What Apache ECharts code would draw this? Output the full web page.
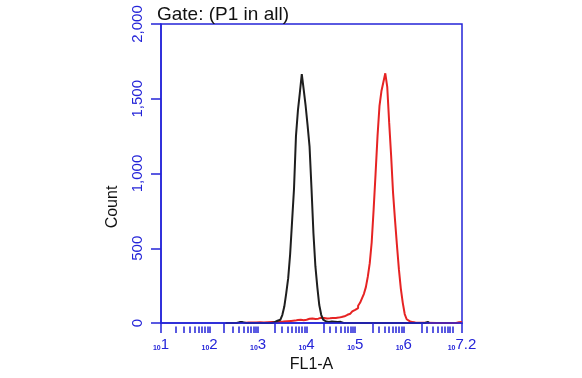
<!DOCTYPE html>
<html>
<head>
<meta charset="utf-8">
<script src="https://cdn.jsdelivr.net/npm/echarts@6/dist/echarts.min.js"></script>
<style>
  html, body { margin: 0; padding: 0; background: #fff; }
  #chart { width: 582px; height: 378px; }
</style>
</head>
<body>
<div id="chart"></div>
<script>
// FL1-A channel positions (log10) and counts
var blackExp = [2.33, 2.35, 2.37, 2.56, 2.60, 2.64, 2.68, 2.72, 2.80, 2.84, 2.88,
  3.28, 3.32, 3.36, 3.40, 3.44, 3.48, 3.52, 3.56, 3.60, 3.64, 3.68, 3.72, 3.76, 3.80,
  3.84, 3.88, 3.92, 3.96, 4.00, 4.04, 4.08, 4.12, 4.16, 4.20, 4.24, 4.28, 4.32, 4.36,
  4.40, 4.44, 4.48, 4.52, 4.56, 4.60, 4.64, 4.68, 4.72, 4.76, 6.44, 6.48, 6.52];
var blackCount = [0, 8, 0, 0, 6, 8, 6, 0, 0, 6, 0,
  0, 6, 8, 15, 22, 35, 55, 110, 200, 300, 460, 680, 900, 1250,
  1420, 1540, 1665, 1560, 1450, 1320, 1180, 900, 600, 380, 240, 120, 55, 22,
  10, 6, 8, 10, 8, 10, 6, 8, 5, 0, 0, 8, 0];

var redExp = [2.72, 2.76, 2.84, 2.92, 3.00, 3.08, 3.16, 3.24, 3.32, 3.40, 3.48, 3.56,
  3.64, 3.72, 3.80, 3.84, 3.88, 3.92, 3.96, 4.00, 4.04, 4.08, 4.12, 4.16, 4.20, 4.24,
  4.28, 4.32, 4.36, 4.40, 4.44, 4.48, 4.52, 4.56, 4.60, 4.64, 4.68, 4.72, 4.76, 4.80,
  4.84, 4.88, 4.92, 4.96, 5.00, 5.04, 5.08, 5.12, 5.16, 5.20, 5.24, 5.28, 5.32, 5.36,
  5.40, 5.44, 5.48, 5.52, 5.56, 5.60, 5.64, 5.68, 5.72, 5.76, 5.80, 5.84, 5.88, 5.92,
  5.96, 6.00, 6.04, 6.08, 6.12, 6.16, 6.20, 6.24, 6.28, 7.08, 7.12, 7.16, 7.20];
var redCount = [0, 4, 4, 3, 5, 4, 5, 6, 7, 9, 10, 12,
  14, 16, 20, 17, 22, 19, 25, 22, 28, 24, 30, 27, 33, 29,
  35, 31, 34, 30, 33, 31, 33, 35, 34, 36, 38, 40, 45, 50,
  55, 62, 70, 78, 88, 100, 115, 135, 165, 195, 240, 310, 400, 540,
  760, 1000, 1250, 1450, 1550, 1610, 1670, 1580, 1340, 1120, 870, 690, 520, 360,
  230, 135, 60, 25, 12, 6, 5, 4, 0, 0, 5, 5, 6];

var xMin = 10, xMax = Math.pow(10, 7.2);
var xLast = Math.pow(10, 7.1999);
var labelValues = [1e1, 1e2, 1e3, 1e4, 1e5, 1e6, xLast];
var majorTicks = [1e1, 2e2, 2.2e3, 2.2e4, 2.3e5, 2.3e6, xLast];
var minorTicks = [];
for (var n = 1; n <= 6; n++) {
  for (var k = 2; k <= 10; k++) {
    if (k === 2 && n > 1) continue;
    minorTicks.push(k * Math.pow(10, n));
  }
}
var yTicks = [0, 500, 1000, 1500, 2000];

var blue = '#2424d8';

function pairs(exp, cnt) {
  return exp.map(function (e, i) { return [Math.pow(10, e), cnt[i]]; });
}

var chart = echarts.init(document.getElementById('chart'));
var option = {
  animation: false,
  title: {
    text: 'Gate: (P1 in all)',
    left: 157,
    top: 5,
    padding: 0,
    textStyle: { fontSize: 19, fontWeight: 'normal', color: '#111', fontFamily: 'Liberation Sans' }
  },
  grid: {
    left: 161, right: 120, top: 24, bottom: 53,
    show: true, borderColor: blue, borderWidth: 1.5, backgroundColor: 'transparent'
  },
  graphic: [{
    type: 'text',
    x: 113, y: 207,
    rotation: Math.PI / 2,
    style: {
      text: 'Count', fill: '#111', fontSize: 16, fontFamily: 'Liberation Sans',
      align: 'center', verticalAlign: 'middle'
    }
  }],
  xAxis: [{
    type: 'log', logBase: 10, min: xMin, max: xMax, z: 5,
    name: 'FL1-A', nameLocation: 'middle', nameGap: 34,
    nameTextStyle: { fontSize: 16, color: '#111', fontFamily: 'Liberation Sans' },
    axisLine: { show: true, lineStyle: { color: blue, width: 1.5 } },
    axisTick: { show: true, length: 10, customValues: majorTicks, lineStyle: { color: blue, width: 1.5 } },
    axisLabel: {
      customValues: labelValues,
      margin: 14,
      formatter: function (v) {
        var e = Math.round(Math.log10(v) * 10) / 10;
        return '{b|10}{e|' + e + '}';
      },
      rich: {
        b: { fontSize: 7, fontWeight: 'bold', color: blue, fontFamily: 'Liberation Sans', verticalAlign: 'bottom' },
        e: { fontSize: 15, color: blue, fontFamily: 'Liberation Sans', verticalAlign: 'bottom' }
      }
    },
    splitLine: { show: false },
    minorTick: { show: false }
  }, {
    type: 'log', logBase: 10, min: xMin, max: xMax, position: 'bottom', offset: 3.5, z: 5,
    axisLine: { show: false },
    axisTick: { show: true, length: 6.5, customValues: minorTicks, lineStyle: { color: blue, width: 1.5 } },
    axisLabel: { show: false },
    splitLine: { show: false }
  }],
  yAxis: {
    type: 'value', min: 0, max: 2000, interval: 500, z: 5,
    axisLine: { show: true, lineStyle: { color: blue, width: 1.5 } },
    axisTick: { show: true, length: 10, lineStyle: { color: blue, width: 1.5 } },
    axisLabel: {
      rotate: 90, margin: 16, color: blue, fontSize: 15, fontFamily: 'Liberation Sans',
      customValues: yTicks,
      formatter: function (v) { return v.toLocaleString('en-US'); }
    },
    splitLine: { show: false }
  },
  series: [{
    name: 'red', type: 'line', step: 'middle', showSymbol: false, symbol: 'none',
    data: pairs(redExp, redCount),
    lineStyle: { color: '#e62323', width: 2 }
  }, {
    name: 'black', type: 'line', step: 'middle', showSymbol: false, symbol: 'none',
    data: pairs(blackExp, blackCount),
    lineStyle: { color: '#1e1e1e', width: 2 }
  }]
};
chart.setOption(option);
</script>
</body>
</html>
